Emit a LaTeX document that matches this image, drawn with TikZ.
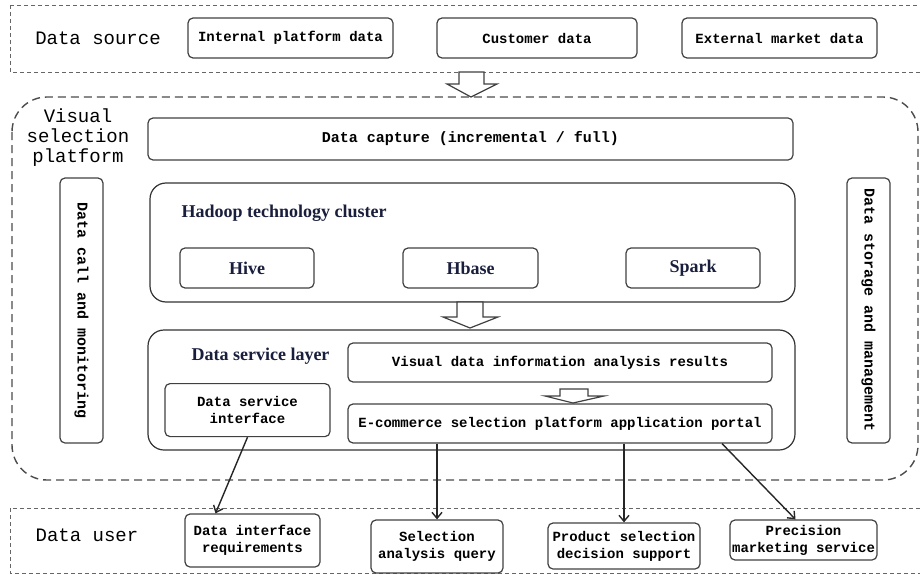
\documentclass[tikz,border=0pt]{standalone}
\usepackage{fontspec}
\setmainfont{Liberation Serif}
\setmonofont{Liberation Mono}
\usepackage{tikz}
\usetikzlibrary{arrows.meta,positioning}
\definecolor{hdtext}{RGB}{25,30,60}

\begin{document}
\begin{tikzpicture}[x=1pt, y=-1pt,
  box/.style={draw=black!75, line width=1.2pt, rounded corners=5pt,
    inner sep=1pt, align=center,
    font=\ttfamily\bfseries\fontsize{14}{17}\selectfont},
  layer/.style={draw=black!80, line width=1.2pt, rounded corners=16pt},
  title/.style={font=\ttfamily\fontsize{19}{20}\selectfont, align=center},
  serifhead/.style={text=hdtext, font=\bfseries\fontsize{18}{20}\selectfont},
  zone/.style={draw=black!60, line width=0.8pt, dash pattern=on 4pt off 3pt},
  platform/.style={draw=black!70, line width=1.4pt, dash pattern=on 8pt off 5pt,
    rounded corners=35pt},
  hollow/.style={draw=black!75, line width=1.2pt, fill=white},
  link/.style={draw=black!85, line width=1.4pt,
    -{Straight Barb[length=6pt,width=10pt]}}]
  \useasboundingbox (0,0) rectangle (920,575);

  % data source
  \draw[zone] (10,5) rectangle (925,72);
  \node[title] (srclabel) at (98,38) {Data source};
  \node[box, minimum width=205pt, minimum height=40pt] (intdata) at (290.5,38)
    {Internal platform data};
  \node[box, minimum width=200pt, minimum height=40pt] (custdata) at (537,38)
    {Customer data};
  \node[box, minimum width=195pt, minimum height=40pt] (extdata) at (779.5,38)
    {External market data};
  \draw[hollow] (459,72) -- (459,84) -- (447,84) -- (471,97) -- (497,84)
    -- (484,84) -- (484,72) -- cycle;

  % platform
  \draw[platform] (12,97) rectangle (918,480);
  \node[title] (platlabel) at (78,138) {Visual\\selection\\platform};
  \node[box, minimum width=645pt, minimum height=42pt,
    font=\ttfamily\bfseries\fontsize{15}{17}\selectfont] (capture) at (470.5,139)
    {Data capture (incremental / full)};

  \node[layer, minimum width=645pt, minimum height=119pt] (hadoop) at (472.5,242.5) {};
  \node[serifhead, anchor=west] (hadooplabel) at (178,213) {Hadoop technology cluster};
  \node[box, serifhead, minimum width=134pt, minimum height=40pt] (hive) at (247,268) {Hive};
  \node[box, serifhead, minimum width=135pt, minimum height=40pt] (hbase) at (470.5,268) {Hbase};
  \node[box, serifhead, minimum width=134pt, minimum height=40pt] (spark) at (693,268) {Spark};
  \draw[hollow] (457,302) -- (457,317) -- (443,317) -- (470,328) -- (498,317)
    -- (483,317) -- (483,302) -- cycle;

  \node[layer, minimum width=647pt, minimum height=120pt] (service) at (471.5,390) {};
  \node[serifhead, anchor=west] (servicelabel) at (188,356) {Data service layer};
  \node[box, minimum width=424pt, minimum height=39pt] (visres) at (560,362.5)
    {Visual data information analysis results};
  \draw[hollow] (560,389) -- (560,396) -- (545,396) -- (573,403) -- (604,396)
    -- (588,396) -- (588,389) -- cycle;
  \node[box, minimum width=424pt, minimum height=39pt] (portal) at (560,423.5)
    {E-commerce selection platform application portal};
  \node[box, minimum width=165pt, minimum height=53pt, anchor=north] (dsi) at (247.5,383)
    {Data service\\interface};

  \node[box, rotate=-90, minimum width=265pt, minimum height=43pt,
    font=\ttfamily\bfseries\fontsize{15}{17}\selectfont] (callmon) at (81.5,310.5)
    {Data call and monitoring};
  \node[box, rotate=-90, minimum width=265pt, minimum height=43pt,
    font=\ttfamily\bfseries\fontsize{15}{17}\selectfont] (storage) at (868.5,310.5)
    {Data storage and management};

  % data user
  \draw[zone] (10,508) rectangle (925,573);
  \node[title] (userlabel) at (87,535) {Data user};
  \node[box, minimum width=135pt, minimum height=53pt] (dir) at (252.5,540.5)
    {Data interface\\requirements};
  \node[box, minimum width=132pt, minimum height=53pt] (saq) at (437,546.5)
    {Selection\\analysis query};
  \node[box, minimum width=152pt, minimum height=46pt] (psds) at (624,546)
    {Product selection\\decision support};
  \node[box, minimum width=147pt, minimum height=40pt] (pms) at (803.5,540)
    {Precision\\marketing service};

  \draw[link] (dsi.south) -- ([xshift=-37pt]dir.north);
  \draw[link] (portal.south -| saq.north) -- (saq.north);
  \draw[link] (portal.south -| psds.north) -- (psds.north);
  \draw[link] ([xshift=162pt]portal.south) -- ([xshift=-8pt]pms.north);
\end{tikzpicture}
\end{document}
